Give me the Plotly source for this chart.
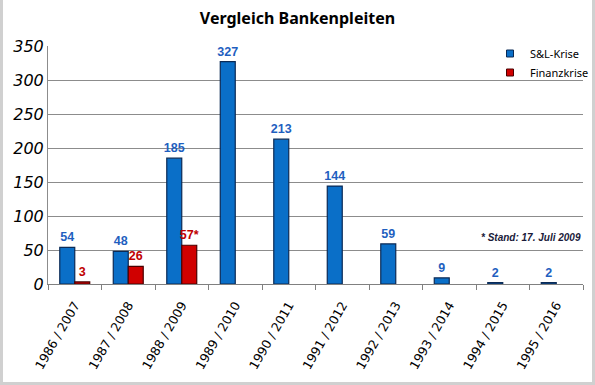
import plotly.graph_objects as go

categories = ["1986 / 2007", "1987 / 2008", "1988 / 2009", "1989 / 2010", "1990 / 2011",
              "1991 / 2012", "1992 / 2013", "1993 / 2014", "1994 / 2015", "1995 / 2016"]
sl_krise = [54, 48, 185, 327, 213, 144, 59, 9, 2, 2]
finanzkrise = [3, 26, 57, None, None, None, None, None, None, None]
fin_labels = ["3", "26", "57*", "", "", "", "", "", "", ""]
y_ticks = [0, 50, 100, 150, 200, 250, 300, 350]

W, H = 595, 385
L, R, T, B = 48, 12, 46, 101
pw, ph = W - L - R, H - T - B

BLUE, BLUE_LINE = "#0a6fc8", "#0b2a55"
RED, RED_LINE = "#d00000", "#4a0000"
LABEL_FONT = "Liberation Sans"

fig = go.Figure()
fig.add_trace(go.Bar(
    x=categories, y=sl_krise, name="S&L-Krise", showlegend=False,
    marker=dict(color=BLUE, line=dict(color=BLUE_LINE, width=1.2)),
    text=[str(v) for v in sl_krise], textposition="outside", constraintext="none",
    textfont=dict(color="#1f5fbf", size=12.5, family=LABEL_FONT, weight="bold"),
    cliponaxis=False,
))
fig.add_trace(go.Bar(
    x=categories, y=finanzkrise, name="Finanzkrise", showlegend=False,
    marker=dict(color=RED, line=dict(color=RED_LINE, width=1.2)),
    text=fin_labels, textposition="outside", constraintext="none",
    textfont=dict(color="#c00000", size=12.5, family=LABEL_FONT, weight="bold"),
    cliponaxis=False,
))
# legend-only entries with small square symbols
for nm, c, lc in [("S&L-Krise", BLUE, BLUE_LINE), ("Finanzkrise", RED, RED_LINE)]:
    fig.add_trace(go.Scatter(x=[None], y=[None], mode="markers", name=nm,
                             marker=dict(symbol="square", size=7, color=c,
                                         line=dict(color=lc, width=1))))

fig.add_annotation(
    x=1.0, xref="paper", xanchor="right", y=69, yref="y", yanchor="middle",
    text="<b><i>* Stand: 17. Juli 2009</i></b>", showarrow=False,
    font=dict(size=10, color="#1a1a3a", family=LABEL_FONT),
)

# outer frame
fig.add_shape(type="rect", xref="paper", yref="paper",
              x0=-(L - 1.5) / pw, x1=(W - L - 1.5) / pw,
              y0=-(B - 1.5) / ph, y1=(H - T - 1.5) / ph,
              line=dict(color="#d0d0d0", width=3), fillcolor="rgba(0,0,0,0)", layer="above")

fig.update_layout(
    width=W, height=H,
    margin=dict(l=L, r=R, t=T, b=B, autoexpand=False),
    paper_bgcolor="white", plot_bgcolor="white",
    title=dict(text="<b>Vergleich Bankenpleiten</b>", x=0.5, xanchor="center",
               y=1 - 18 / H, yanchor="middle",
               font=dict(size=16, color="black", family="Noto Sans")),
    barmode="group", bargap=0.44, bargroupgap=0.0,
    showlegend=True,
    legend=dict(x=(490 - L) / pw, y=1 + 7 / ph, xanchor="left", yanchor="top",
                font=dict(size=11, color="black", family="Noto Sans"),
                bgcolor="rgba(0,0,0,0)", itemwidth=30, tracegroupgap=0,
                traceorder="normal"),
    xaxis=dict(tickangle=-60, tickson="boundaries", ticks="outside", ticklen=5,
               tickcolor="#808080", showline=True, linecolor="#808080", linewidth=1,
               showgrid=False, automargin=False, ticklabelstandoff=8,
               tickfont=dict(size=12.5, color="black", family="DejaVu Sans")),
    yaxis=dict(range=[0, 350], tickvals=y_ticks, showgrid=True, gridcolor="#8c8c8c",
               gridwidth=1, showline=True, linecolor="#8c8c8c", zeroline=False,
               ticks="", automargin=False,
               tickfont=dict(size=16, color="black", family="DejaVu Sans", style="italic")),
)

fig.write_html("out.html", config={"displayModeBar": False},
               post_script="document.body.style.margin='0';document.body.style.padding='0';"
                           "document.body.style.overflow='hidden';")
